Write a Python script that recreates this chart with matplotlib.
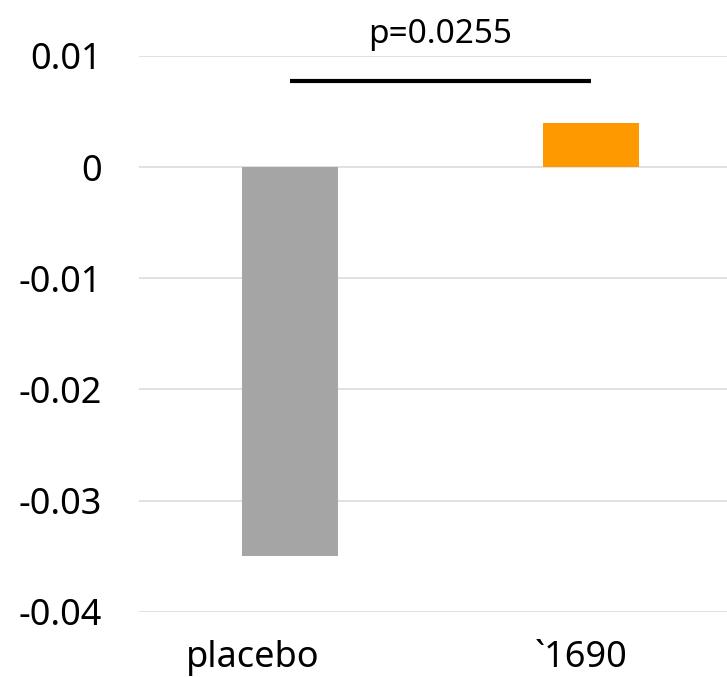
import matplotlib.pyplot as plt

# data
groups = ['placebo', '`1690']
changes = [-0.035, 0.004]
bar_colors = ['#a5a5a5', '#ff9900']
p_label = 'p=0.0255'
y_ticks = [0.01, 0, -0.01, -0.02, -0.03, -0.04]
y_tick_labels = ['0.01', '0', '-0.01', '-0.02', '-0.03', '-0.04']

plt.rcParams['font.family'] = ['Noto Sans', 'DejaVu Sans']

fig = plt.figure(figsize=(7.27, 6.77), dpi=100)
ax = fig.add_axes([0.1912, 0.0965, 0.8088, 0.8208])

x = list(range(len(groups)))
ax.bar(x, changes, width=0.32, color=bar_colors, zorder=3)

# significance bar between the two groups
ax.plot([x[0], x[1]], [0.00775, 0.00775], color='black', lw=3, solid_capstyle='butt', zorder=4)
ax.text((x[0] + x[1]) / 2, 0.01116, p_label, ha='center', va='baseline', fontsize=24, clip_on=False)

ax.set_xlim(-0.501, 1.453)
ax.set_ylim(-0.04, 0.01)
ax.set_yticks(y_ticks)
ax.set_yticklabels(y_tick_labels, fontsize=26)
ax.grid(axis='y', color='#d9d9d9', lw=1.1, zorder=0)
ax.set_axisbelow(True)

# category labels sit a bit left of the bar centres in the original
ax.set_xticks([-0.122, 0.968])
ax.set_xticklabels(groups, fontsize=26)
for lab in ax.get_xticklabels():
    lab.set_va('baseline')
ax.tick_params(axis='x', length=0, pad=39.5)
ax.tick_params(axis='y', length=0, pad=26.9)

for s in ax.spines.values():
    s.set_visible(False)

plt.savefig('out.png', dpi=100)
